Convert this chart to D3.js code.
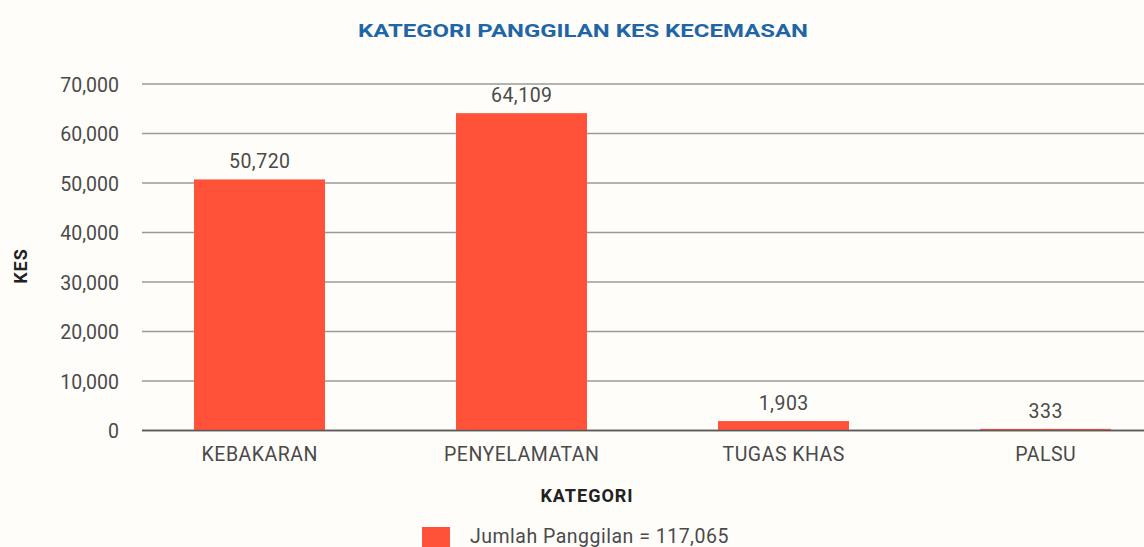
<!DOCTYPE html>
<html><head><meta charset="utf-8">
<script src="https://cdn.jsdelivr.net/npm/d3@7"></script>
<style>
html,body{margin:0;padding:0;background:#fffdfa;}
svg{display:block;}
text{font-family:Roboto,"Noto Sans",sans-serif;}
</style></head>
<body>
<svg id="chart" width="1144" height="547"></svg>
<script>
const categories = ["KEBAKARAN", "PENYELAMATAN", "TUGAS KHAS", "PALSU"];
const values = [50720, 64109, 1903, 333];
const yTicks = [0, 10000, 20000, 30000, 40000, 50000, 60000, 70000];
const title = "KATEGORI PANGGILAN KES KECEMASAN";
const xTitle = "KATEGORI";
const yTitle = "KES";
const legendLabel = "Jumlah Panggilan = 117,065";

const svg = d3.select("#chart");
const W = 1144, H = 547;
const barColor = "#ff5238";
const textColor = "#4a4a4a";
const fmt = d3.format(",");
const FS = 19.5;
const LS = 0.5;

const y = d3.scaleLinear().domain([0, 70000]).range([430.5, 84]);
const x = d3.scaleBand().domain(categories).range([128.5, 1176.5])
  .paddingInner(0.5).paddingOuter(0.25);

// y axis labels
const yAxis = d3.axisLeft(y).tickValues(yTicks).tickFormat(fmt).tickSize(0).tickPadding(0);
const gAxis = svg.append("g").attr("transform", "translate(142,0)");
gAxis.call(yAxis);
gAxis.select(".domain").remove();
gAxis.selectAll(".tick text")
  .attr("x", -23).attr("dy", "0.36em")
  .attr("font-size", FS).attr("fill", textColor)
  .style("font-family", "Roboto, sans-serif");

// gridlines
svg.append("g").selectAll("line").data(yTicks).join("line")
  .attr("x1", 142).attr("x2", W)
  .attr("y1", d => y(d)).attr("y2", d => y(d))
  .attr("stroke", d => d === 0 ? "#5a5a5a" : "#9a9a9a")
  .attr("stroke-width", 1.6);

// bars
svg.append("g").selectAll("rect").data(values).join("rect")
  .attr("x", (d, i) => x(categories[i]))
  .attr("width", x.bandwidth())
  .attr("y", d => y(d))
  .attr("height", d => y(0) - y(d))
  .attr("fill", barColor);

// zero line over bars
svg.append("line").attr("x1", 142).attr("x2", W)
  .attr("y1", y(0)).attr("y2", y(0))
  .attr("stroke", "#5a5a5a").attr("stroke-width", 1.4);

// value labels
svg.append("g").selectAll("text").data(values).join("text")
  .attr("x", (d, i) => x(categories[i]) + x.bandwidth() / 2 + LS / 2)
  .attr("y", d => y(d) - 11)
  .attr("text-anchor", "middle")
  .attr("font-size", FS).attr("fill", textColor)
  .style("letter-spacing", LS + "px")
  .text(d => fmt(d));

// x axis labels
const xAxis = d3.axisBottom(x).tickSize(0).tickPadding(0);
const gx = svg.append("g").attr("transform", `translate(${LS / 2},${y(0)})`).call(xAxis);
gx.select(".domain").remove();
gx.selectAll(".tick text")
  .attr("y", 30).attr("dy", 0)
  .attr("font-size", FS).attr("fill", textColor)
  .style("letter-spacing", LS + "px")
  .style("font-family", "Roboto, sans-serif");

// title
svg.append("text").attr("x", 583).attr("y", 37)
  .attr("text-anchor", "middle")
  .attr("font-size", 19).attr("font-weight", "bold")
  .attr("fill", "#1f66a6")
  .attr("textLength", 450).attr("lengthAdjust", "spacingAndGlyphs")
  .text(title);

// x title
svg.append("text").attr("x", 587).attr("y", 502)
  .attr("text-anchor", "middle")
  .attr("font-size", 18).attr("font-weight", "bold")
  .attr("fill", "#222")
  .style("letter-spacing", "1px")
  .text(xTitle);

// y title
svg.append("text").attr("transform", "translate(27,266) rotate(-90)")
  .attr("text-anchor", "middle")
  .attr("font-size", 18).attr("font-weight", "bold")
  .attr("fill", "#222")
  .style("letter-spacing", "1px")
  .text(yTitle);

// legend
svg.append("rect").attr("x", 422).attr("y", 527).attr("width", 28).attr("height", 24)
  .attr("fill", barColor);
svg.append("text").attr("x", 470).attr("y", 543)
  .attr("font-size", FS).attr("fill", textColor)
  .style("letter-spacing", LS + "px")
  .text(legendLabel);
</script>
</body></html>
